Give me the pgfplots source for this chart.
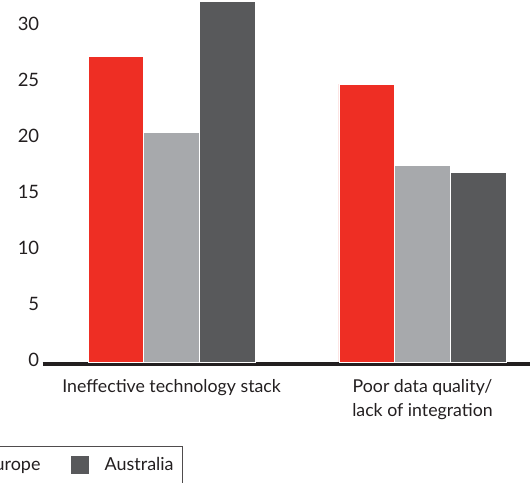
\documentclass[border=0pt]{standalone}
\usepackage{fontspec}
\setmainfont{Lato}
\usepackage{pgfplots}
\pgfplotsset{compat=1.18}
\definecolor{cRed}{HTML}{EE2E24}
\definecolor{cLight}{HTML}{A7A9AC}
\definecolor{cDark}{HTML}{58595B}
\definecolor{cText}{HTML}{231F20}
\begin{document}
\begin{tikzpicture}
\begin{axis}[
  at={(42.7bp,118.76bp)}, anchor=south west,
  scale only axis,
  width=487.3bp, height=364.24bp,
  xmin=-0.514, xmax=1.4286,
  ymin=-0.2, ymax=32.32,
  ybar=0pt, bar width=55.7bp,
  axis x line*=bottom, axis y line*=left,
  x axis line style={line width=4bp, color=cText},
  y axis line style={draw=none},
  tick style={draw=none},
  xtick={0,1},
  xticklabels={Ineffective technology stack, {Poor data quality/\\lack of integration}},
  xticklabel style={align=center, font=\fontsize{17.8}{24}\selectfont, text=cText, yshift=-7.5bp},
  ytick={0,5,10,15,20,25,30},
  yticklabel style={font=\fontsize{18.5}{20}\selectfont, text=cText, yshift=2.5bp, xshift=0bp},
  /pgf/number format/assume math mode=true,
  legend columns=3,
  legend style={at={(axis description cs:0.2879,-0.2236)}, anchor=north east,
    draw=cText!80, line width=0.8bp, font=\fontsize{18}{20}\selectfont, text=cText,
    inner xsep=9bp, inner ysep=10bp,
    nodes={inner sep=0pt},
    /tikz/every odd column/.append style={column sep=15.7bp},
    /tikz/every even column/.append style={column sep=31bp}},
  legend image code/.code={\fill[#1,draw=none] (0bp,-8.8bp) rectangle (17.6bp,8.8bp);},
]
\addplot[fill=cRed, draw=white, line width=0.8bp] coordinates {(0,27.26) (1,24.8)};
\addplot[fill=cLight, draw=white, line width=0.8bp] coordinates {(0,20.5) (1,17.56)};
\addplot[fill=cDark, draw=white, line width=0.8bp] coordinates {(0,32.2) (1,16.9)};
\legend{North America, Europe, Australia}
\end{axis}
\pgfresetboundingbox
\path[use as bounding box] (0,0) rectangle (530bp,483bp);
\end{tikzpicture}
\end{document}
